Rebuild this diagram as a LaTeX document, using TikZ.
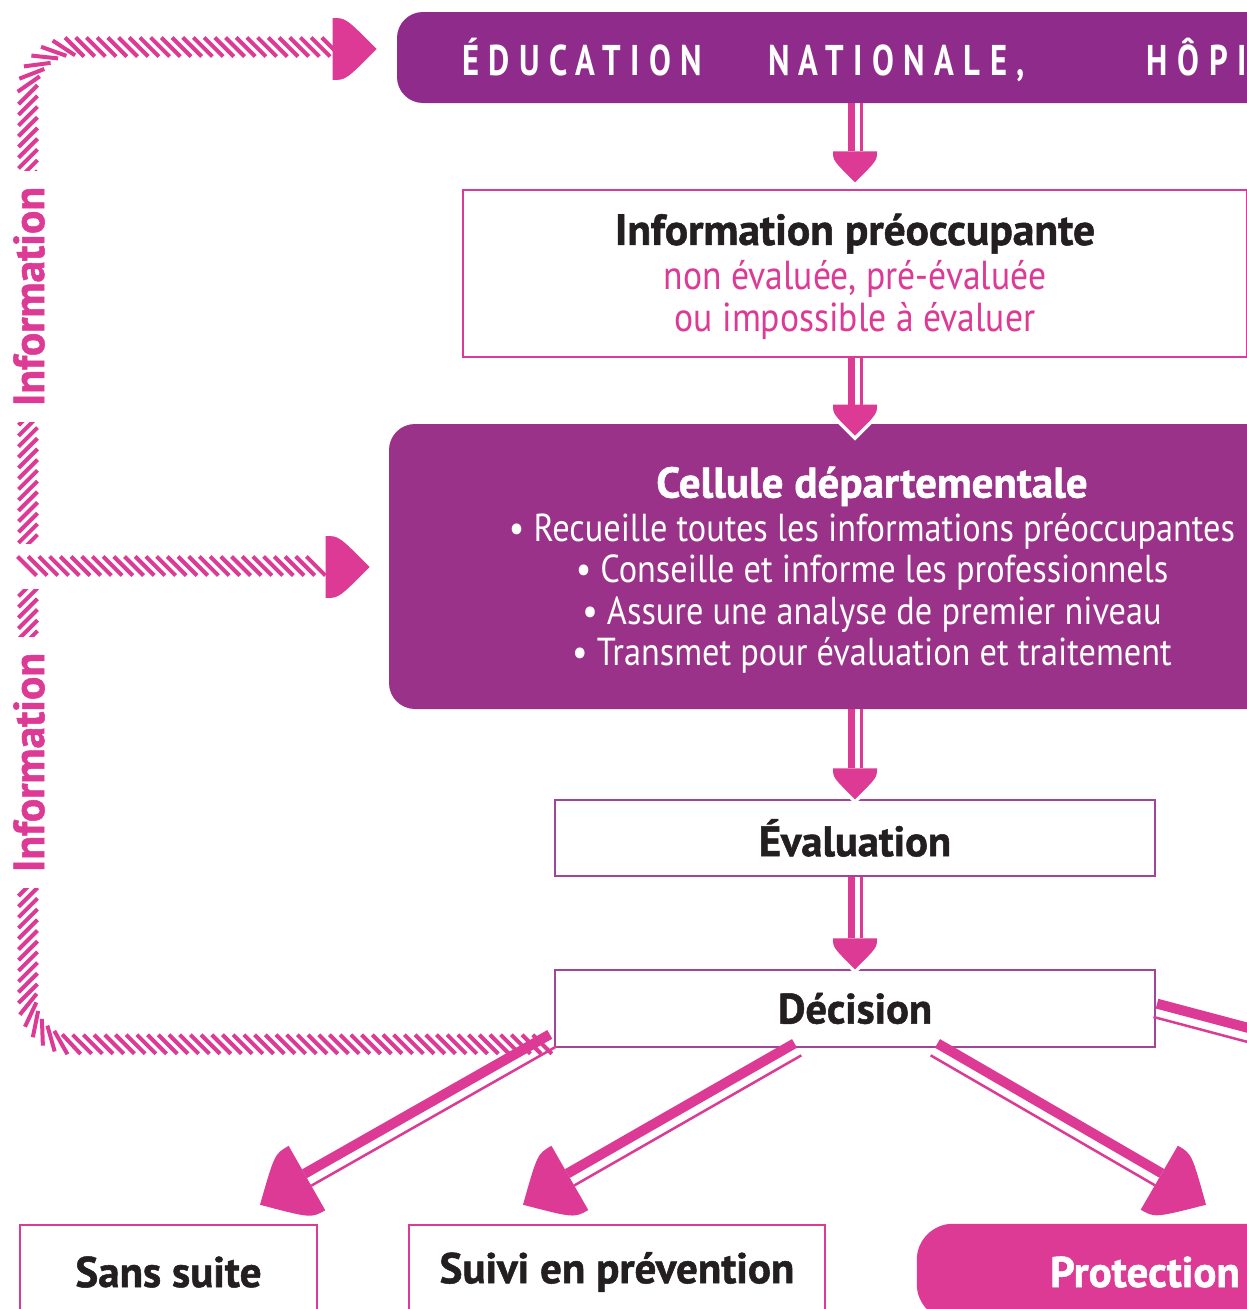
\documentclass[tikz,border=0pt]{standalone}
\usepackage{fontspec}
\setmainfont{PT Sans}[BoldFeatures={FakeBold=1.2}]
\newfontfamily\bodyfont{PT Sans}[FakeStretch=0.88]
\newfontfamily\headfont{PT Sans}[FakeStretch=0.76,LetterSpace=22]
\usetikzlibrary{calc,decorations.markings}

\definecolor{plum}{HTML}{8E2B8B}
\definecolor{cellpurple}{HTML}{9B3289}
\definecolor{rose}{HTML}{DC3A94}
\definecolor{boxline}{HTML}{A0459A}
\definecolor{inkblack}{HTML}{231F20}

\tikzset{every picture/.style={line width=0.75pt}}
\tikzset{
  topband/.style={fill=plum, rounded corners=26pt, minimum width=1400pt, minimum height=91pt, inner sep=0pt},
  framebox/.style={draw=rose, line width=1.5pt, fill=white, inner sep=0pt},
  cellbox/.style={fill=cellpurple, rounded corners=26pt, inner sep=0pt, text=white},
  stepframe/.style={draw=boxline, line width=1.5pt, fill=white, inner sep=0pt, minimum width=600pt, text=inkblack, font=\bfseries\fontsize{42.5}{48}\selectfont},
  outcome/.style={draw=rose, line width=2.5pt, fill=white, inner sep=0pt, minimum height=94pt, text=inkblack, font=\bfseries\fontsize{43}{50}\selectfont},
  sidelabel/.style={rotate=90, fill=white, inner xsep=16pt, inner ysep=0pt, text=rose, font=\bfseries\fontsize{43.5}{48}\selectfont},
  hatched/.style={postaction={decorate, decoration={markings, mark=between positions 0 and 1 step 10.7pt with {\draw[rose, line width=4pt] (-9.5,-9.5) -- (9.5,9.5);}}}},
}

% shield shaped head: base, tip, half width
\newcommand{\shieldhead}[3]{%
  \coordinate (sh-c1) at ($(#1)!#3!90:(#2)$);
  \coordinate (sh-c2) at ($(#1)!#3!-90:(#2)$);
  \coordinate (sh-q1) at ($(#2)!#3!-90:(#1)$);
  \coordinate (sh-q2) at ($(#2)!#3!90:(#1)$);
  \draw[white, line width=7pt] (sh-c1) .. controls ($(sh-c1)!0.3!(sh-q1)$) .. (#2) .. controls ($(sh-c2)!0.3!(sh-q2)$) .. (sh-c2);
  \fill[rose] (sh-c1) .. controls ($(sh-c1)!0.3!(sh-q1)$) .. (#2) .. controls ($(sh-c2)!0.3!(sh-q2)$) .. (sh-c2) -- cycle;
}
% start, tip, head length, half width, thick width, thick offset, thin offset
\newcommand{\flowarrow}[7]{%
  \coordinate (fa-b) at ($(#2)!#3!(#1)$);
  \shieldhead{fa-b}{#2}{#4}
  \draw[rose, line width=#5] ($(#1)!#6!90:(fa-b)$) -- ($(fa-b)!#6!-90:(#1)$);
  \draw[rose, line width=2.5pt] ($(#1)!#7!90:(fa-b)$) -- ($(fa-b)!#7!-90:(#1)$);
}
\newcommand{\steparrow}[2]{\flowarrow{#1}{#2}{31pt}{22pt}{7pt}{-3.5pt}{6.25pt}}
\newcommand{\fanarrow}[4]{\flowarrow{#1}{#2}{54pt}{37pt}{10pt}{#3}{#4}}

\begin{document}
\begin{tikzpicture}[x=1pt,y=-1pt]
\useasboundingbox (0,0) rectangle (1247,1309);
\clip (0,0) rectangle (1247,1309);

%Boxes
\node[topband] (topbox) at (1097,57.5) {};
% Text Node
\node[anchor=base west, inner sep=0pt, text=white, font=\headfont\bfseries\fontsize{43}{48}\selectfont] (headline) at (462,75) {ÉDUCATION\hspace{66pt}NATIONALE,\hspace{122pt}HÔPI};

\node[framebox, minimum width=784pt, minimum height=167pt, align=center, text=rose, font=\bodyfont\fontsize{40.5}{42}\selectfont] (infobox) at (855,273.5)
  {{\normalfont\bfseries\color{inkblack}\fontsize{43.5}{46}\selectfont\rule{0pt}{38pt}Information préoccupante}\\[3pt] non évaluée, pré-évaluée\\ ou impossible à évaluer};

\node[cellbox, minimum width=966pt, minimum height=285pt, align=center, font=\bodyfont\fontsize{39}{41.5}\selectfont] (cellule) at (872,566.5)
  {{\normalfont\bfseries\fontsize{43}{43}\selectfont\rule{0pt}{38pt}Cellule départementale}\\[2pt]
   • Recueille toutes les informations préoccupantes\\
   • Conseille et informe les professionnels\\
   • Assure une analyse de premier niveau\\
   • Transmet pour évaluation et traitement};

\node[stepframe, minimum height=76pt] (evaluation) at (855,838) {Évaluation};
\node[stepframe, minimum height=77pt] (decision) at (855,1008.5) {Décision};

\node[outcome, minimum width=297pt] (sanssuite) at (168.5,1272) {Sans suite};
\node[outcome, minimum width=416pt] (suivi) at (617,1272) {Suivi en prévention};
\node[outcome, minimum width=454pt, fill=rose, text=white, rounded corners=35pt] (protection) at (1145,1272) {Protection};

%Hatched information loop
\coordinate (hatchtoptip) at ($(topbox.west)+(-20,-8.5)$);
\coordinate (hatchtopbase) at ($(hatchtoptip)+(-44,0)$);
\path[hatched, rounded corners=45pt] ($(decision.south west)+(-12,-3.5)$) -| (28,47) -- (hatchtopbase |- 0,47);
\shieldhead{hatchtopbase}{hatchtoptip}{31pt}

\coordinate (branchtip) at ($(cellule.west)+(-19,0.5)$);
\coordinate (branchbase) at ($(branchtip)+(-44,0)$);
\path[preaction={draw=white, line width=45pt, line cap=rect, shorten >=22.5pt}, hatched] (27,566) -- (branchbase |- 0,566);
\shieldhead{branchbase}{branchtip}{31pt}

% Text Node
\node[sidelabel] (infotop) at (29,296.5) {Information};
\node[sidelabel] (infobottom) at (29,762.5) {Information};

%Straight Lines
\coordinate (s1) at (infobox.north |- topbox.south);
\coordinate (t1) at ($(infobox.north)+(0,-7)$);
\steparrow{s1}{t1}
\coordinate (t2) at ($(infobox.south |- cellule.north)+(0,12)$);
\steparrow{infobox.south}{t2}
\coordinate (s3) at (evaluation.north |- cellule.south);
\steparrow{s3}{evaluation.north}
\steparrow{evaluation.south}{decision.north}

\coordinate (sa) at ($(decision.south west)+(-2,-9)$);
\coordinate (ta) at ($(sanssuite.north)+(91.5,-19)$);
\fanarrow{sa}{ta}{-5pt}{8.75pt}
\coordinate (sb) at ($(decision.south)+(-58,0)$);
\coordinate (tb) at ($(suivi.north)+(-94,-19)$);
\fanarrow{sb}{tb}{-5pt}{8.75pt}
\coordinate (sc) at ($(decision.south)+(80,0)$);
\coordinate (tc) at ($(protection.north)+(61,-19)$);
\fanarrow{sc}{tc}{5pt}{-8.75pt}
\coordinate (offright) at (1455,1088);
\fanarrow{decision.east}{offright}{5pt}{-8.75pt}

\end{tikzpicture}
\end{document}
